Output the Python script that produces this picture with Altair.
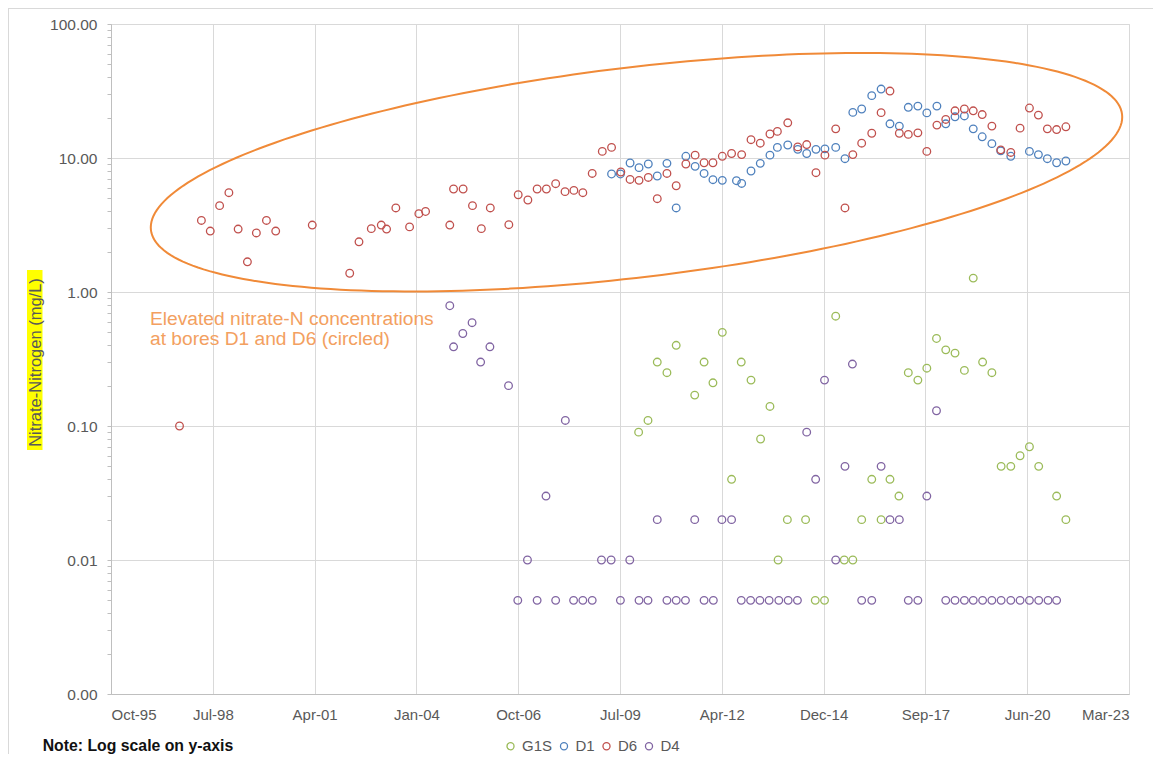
import altair as alt
import pandas as pd
import numpy as np

# ---------------- data ----------------
series_names = ["G1S", "D1", "D6", "D4"]
series_colors = ["#9BBB59", "#4F81BD", "#C0504D", "#8064A2"]

# sampling dates as decimal years, values in mg/L
G1S_t = [2010.02, 2010.27, 2010.52, 2010.78, 2011.03, 2011.53, 2011.78, 2012.02, 2012.27, 2012.52,
         2012.78, 2013.04, 2013.30, 2013.55, 2013.77, 2014.02, 2014.51, 2014.77, 2015.02, 2015.32,
         2015.55, 2015.78, 2016.02, 2016.29, 2016.54, 2016.78, 2017.02, 2017.27, 2017.53, 2017.77,
         2018.03, 2018.28, 2018.53, 2018.78, 2019.02, 2019.27, 2019.52, 2019.77, 2020.03, 2020.28,
         2020.53, 2020.78, 2021.26, 2021.51]
G1S_v = [0.09, 0.11, 0.30, 0.25, 0.40, 0.17, 0.30, 0.21, 0.50, 0.04,
         0.30, 0.22, 0.08, 0.14, 0.01, 0.02, 0.02, 0.005, 0.005, 0.66,
         0.01, 0.01, 0.02, 0.04, 0.02, 0.04, 0.03, 0.25, 0.22, 0.27,
         0.45, 0.37, 0.35, 0.26, 1.27, 0.30, 0.25, 0.05, 0.05, 0.06,
         0.07, 0.05, 0.03, 0.02]

D1_t = [2009.29, 2009.53, 2009.79, 2010.03, 2010.28, 2010.52, 2010.78, 2011.03, 2011.29, 2011.54,
        2011.78, 2012.02, 2012.27, 2012.65, 2012.79, 2013.04, 2013.29, 2013.55, 2013.75, 2014.03,
        2014.30, 2014.54, 2014.79, 2015.03, 2015.32, 2015.57, 2015.78, 2016.02, 2016.29, 2016.54,
        2016.78, 2017.03, 2017.27, 2017.53, 2017.77, 2018.04, 2018.28, 2018.53, 2018.78, 2019.02,
        2019.26, 2019.52, 2019.76, 2020.03, 2020.53, 2020.77, 2021.01, 2021.26, 2021.51]
D1_v = [7.60, 7.60, 9.18, 8.47, 9.02, 7.34, 9.12, 4.24, 10.3, 8.66,
        7.67, 6.89, 6.81, 6.77, 6.46, 8.00, 9.12, 10.5, 12.0, 12.5,
        11.6, 10.8, 11.6, 11.7, 12.0, 9.88, 21.9, 23.2, 29.2, 32.7,
        18.0, 17.3, 23.9, 24.4, 21.7, 24.4, 18.0, 20.3, 20.6, 16.5,
        14.4, 12.8, 11.3, 10.3, 11.2, 10.6, 9.88, 9.22, 9.50]

D6_t = [1997.67, 1998.26, 1998.50, 1998.75, 1999.00, 1999.25, 1999.50, 1999.74, 2000.01, 2000.26,
        2001.24, 2002.25, 2002.50, 2002.83, 2003.10, 2003.24, 2003.49, 2003.86, 2004.11, 2004.29,
        2004.94, 2005.04, 2005.30, 2005.55, 2005.79, 2006.03, 2006.53, 2006.78, 2007.04, 2007.29,
        2007.54, 2007.79, 2008.04, 2008.28, 2008.52, 2008.77, 2009.04, 2009.29, 2009.54, 2009.79,
        2010.03, 2010.28, 2010.52, 2010.78, 2011.03, 2011.29, 2011.54, 2011.78, 2012.02, 2012.27,
        2012.52, 2012.79, 2013.04, 2013.29, 2013.55, 2013.75, 2014.03, 2014.30, 2014.54, 2014.79,
        2015.03, 2015.32, 2015.57, 2015.78, 2016.02, 2016.29, 2016.54, 2016.78, 2017.03, 2017.27,
        2017.53, 2017.77, 2018.04, 2018.28, 2018.53, 2018.78, 2019.02, 2019.26, 2019.52, 2019.76,
        2020.03, 2020.28, 2020.53, 2020.77, 2021.01, 2021.26, 2021.51]
D6_v = [0.10, 3.42, 2.85, 4.41, 5.51, 2.95, 1.68, 2.76, 3.42, 2.85,
        3.16, 1.38, 2.37, 2.97, 3.16, 2.95, 4.24, 3.06, 3.84, 3.99,
        3.16, 5.87, 5.87, 4.41, 2.97, 4.24, 3.18, 5.32, 4.86, 5.87,
        5.87, 6.43, 5.61, 5.73, 5.51, 7.67, 11.2, 12.0, 7.86, 6.92,
        6.81, 7.16, 4.97, 7.67, 6.21, 9.02, 10.5, 9.22, 9.22, 10.3,
        10.8, 10.6, 13.7, 12.9, 15.1, 15.8, 18.3, 12.1, 12.6, 7.77,
        10.5, 16.5, 4.24, 10.6, 12.9, 15.3, 21.8, 31.6, 15.3, 15.0,
        15.4, 11.2, 17.6, 19.4, 22.5, 23.2, 22.5, 21.1, 17.3, 11.5,
        11.0, 16.7, 23.6, 20.9, 16.5, 16.3, 17.1]

D4_t = [2004.94, 2005.04, 2005.29, 2005.54, 2005.77, 2006.02, 2006.52, 2006.77, 2007.03, 2007.29,
        2007.53, 2007.79, 2008.05, 2008.27, 2008.52, 2008.77, 2009.02, 2009.28, 2009.53, 2009.78,
        2010.03, 2010.27, 2010.52, 2010.78, 2011.03, 2011.28, 2011.53, 2011.78, 2012.03, 2012.26,
        2012.52, 2012.78, 2013.03, 2013.28, 2013.53, 2013.79, 2014.04, 2014.29, 2014.54, 2014.78,
        2015.02, 2015.32, 2015.57, 2015.77, 2016.02, 2016.29, 2016.54, 2016.78, 2017.03, 2017.27,
        2017.53, 2017.77, 2018.03, 2018.28, 2018.53, 2018.78, 2019.02, 2019.27, 2019.52, 2019.77,
        2020.03, 2020.28, 2020.53, 2020.78, 2021.03, 2021.26]
D4_v = [0.79, 0.39, 0.49, 0.59, 0.30, 0.39, 0.20, 0.005, 0.01, 0.005,
        0.03, 0.005, 0.11, 0.005, 0.005, 0.005, 0.01, 0.01, 0.005, 0.01,
        0.005, 0.005, 0.02, 0.005, 0.005, 0.005, 0.02, 0.005, 0.005, 0.02,
        0.02, 0.005, 0.005, 0.005, 0.005, 0.005, 0.005, 0.005, 0.09, 0.04,
        0.22, 0.01, 0.05, 0.29, 0.005, 0.005, 0.05, 0.02, 0.02, 0.005,
        0.005, 0.03, 0.13, 0.005, 0.005, 0.005, 0.005, 0.005, 0.005, 0.005,
        0.005, 0.005, 0.005, 0.005, 0.005, 0.005]

# axis ticks
x_axis_start = "1995-10-31"
x_tick_step_days = 1000
x_tick_count = 11
y_decades = [-3, -2, -1, 0, 1, 2]

y_title = "Nitrate-Nitrogen (mg/L)"
note_text = "Note: Log scale on y-axis"
ann_lines = ["Elevated nitrate-N concentrations", "at bores D1 and D6 (circled)"]
ann_date = "1996-11-17"
ann_value = 0.57

# ellipse annotation (centre in data units, axes in pixels)
ell_center_date = pd.Timestamp(x_axis_start) + pd.Timedelta(days=5162)
ell_center_log = 0.894
ell_a_px, ell_b_px, ell_angle_deg = 489.0, 105.0, 6.8

# ---------------- build tables ----------------
def dec_to_iso(t):
    y = int(t)
    start = pd.Timestamp(year=y, month=1, day=1)
    ndays = 366 if pd.Timestamp(year=y, month=12, day=31).dayofyear == 366 else 365
    d = start + pd.Timedelta(days=round((t - y) * ndays))
    return d.strftime("%Y-%m-%d")

rows = []
for name, ts, vs in [("G1S", G1S_t, G1S_v), ("D1", D1_t, D1_v), ("D6", D6_t, D6_v), ("D4", D4_t, D4_v)]:
    for t, v in zip(ts, vs):
        rows.append({"date": dec_to_iso(t), "value": v, "bore": name})
df = pd.DataFrame(rows)

W, H = 1018, 670
start_ts = pd.Timestamp(x_axis_start)
tick_dates = [start_ts + pd.Timedelta(days=x_tick_step_days * k) for k in range(x_tick_count)]
tick_ms = [int(d.value // 10**6) for d in tick_dates]
days_per_px = (x_tick_step_days * (x_tick_count - 1)) / W
px_per_decade = H / (len(y_decades) - 1)

y_ticks = [k * 10.0 ** e for e in y_decades[:-1] for k in range(1, 10)] + [10.0 ** y_decades[-1]]

# ellipse outline
tt = np.linspace(0, 2 * np.pi, 241)
th = np.radians(ell_angle_deg)
dxp = ell_a_px * np.cos(tt) * np.cos(th) - ell_b_px * np.sin(tt) * np.sin(th)
dyp = ell_a_px * np.cos(tt) * np.sin(th) + ell_b_px * np.sin(tt) * np.cos(th)
c_ms = ell_center_date.value / 1e6
ell_df = pd.DataFrame({
    "date": c_ms + dxp * days_per_px * 86400000.0,
    "value": 10 ** (ell_center_log + dyp / px_per_decade),
    "ord": np.arange(len(tt)),
})

# ---------------- encodings ----------------
FONT = "Liberation Sans"
GRID = "#D9D9D9"
AXISC = "#BFBFBF"
LABEL = "#595959"

xscale = alt.Scale(type="utc", domain=[tick_ms[0], tick_ms[-1]])
yscale = alt.Scale(type="log", domain=[10.0 ** y_decades[0], 10.0 ** y_decades[-1]])

decade_test = "abs(log(datum.value)/LN10 - round(log(datum.value)/LN10)) < 0.001"

xaxis = alt.Axis(values=tick_ms, format="%b-%y", labelFont=FONT, labelFontSize=15,
                 labelColor=LABEL, ticks=False, labelPadding=13, domainColor=AXISC,
                 gridColor=GRID, grid=True, labelOverlap=False)
yaxis = alt.Axis(values=y_ticks, labelExpr=f"({decade_test}) ? format(datum.value, '.2f') : ''",
                 labelFont=FONT, labelFontSize=15.5, labelColor=LABEL, tickSize=4,
                 tickColor=AXISC, domainColor=AXISC, labelPadding=10, gridColor=GRID,
                 gridOpacity={"condition": {"test": decade_test, "value": 1}, "value": 0},
                 labelOverlap=False, grid=True)

X = alt.X("date:T", scale=xscale, axis=xaxis, title=None)
Y = alt.Y("value:Q", scale=yscale, axis=yaxis, title=None)

one = pd.DataFrame({"a": [1]})

border_top = alt.Chart(one).mark_rule(color=GRID, strokeWidth=1).encode(
    x=alt.value(-103), x2=alt.value(W + 24), y=alt.value(-15.5))
border_left = alt.Chart(one).mark_rule(color=GRID, strokeWidth=1).encode(
    x=alt.value(-102.5), y=alt.value(-16), y2=alt.value(H + 60))

highlight = alt.Chart(one).mark_rect(color="#FFFF00").encode(
    x=alt.value(-84), x2=alt.value(-68.5), y=alt.value(246), y2=alt.value(426))
ytitle = alt.Chart(one).mark_text(text=y_title, angle=270, font=FONT, fontSize=16.5,
                                  color=LABEL, align="center", baseline="middle").encode(
    x=alt.value(-75.5), y=alt.value(338.5))

ellipse = alt.Chart(ell_df).mark_line(color="#F08A38", strokeWidth=2).encode(
    x=X, y=Y, order="ord:Q")

points = alt.Chart(df).mark_point(filled=False, shape="circle", size=58, strokeWidth=1.3,
                                  opacity=1).encode(
    x=X, y=Y,
    color=alt.Color("bore:N", scale=alt.Scale(domain=series_names, range=series_colors),
                    sort=series_names,
                    legend=alt.Legend(orient="none", legendX=392, legendY=714.5,
                                      direction="horizontal", title=None, labelFont=FONT,
                                      labelFontSize=15, labelColor=LABEL, symbolSize=50,
                                      symbolStrokeWidth=1.3, columnPadding=3.5, labelOffset=4,
                                      padding=0, symbolType="circle")),
)

ann_tbl = pd.DataFrame({"date": [ann_date], "value": [ann_value]})
annotation = alt.Chart(ann_tbl).mark_text(text=ann_lines, align="left", baseline="alphabetic",
                                           font=FONT, fontSize=19.2, lineHeight=20,
                                           color="#F3A060").encode(x=X, y=Y)

note = alt.Chart(one).mark_text(text=note_text, align="left", baseline="middle", font=FONT,
                                fontSize=15.8, fontWeight="bold", color="#111111").encode(
    x=alt.value(-68.3), y=alt.value(721.7))

chart = alt.layer(border_top, border_left, highlight, ytitle, ellipse, points, annotation, note).properties(
    width=W, height=H,
    autosize=alt.AutoSizeParams(type="none"),
    padding={"left": 103, "top": 16, "right": 24, "bottom": 60},
).configure_view(stroke=GRID).configure(font=FONT)

chart.save("out.html", embed_options={"renderer": "svg", "actions": False})
